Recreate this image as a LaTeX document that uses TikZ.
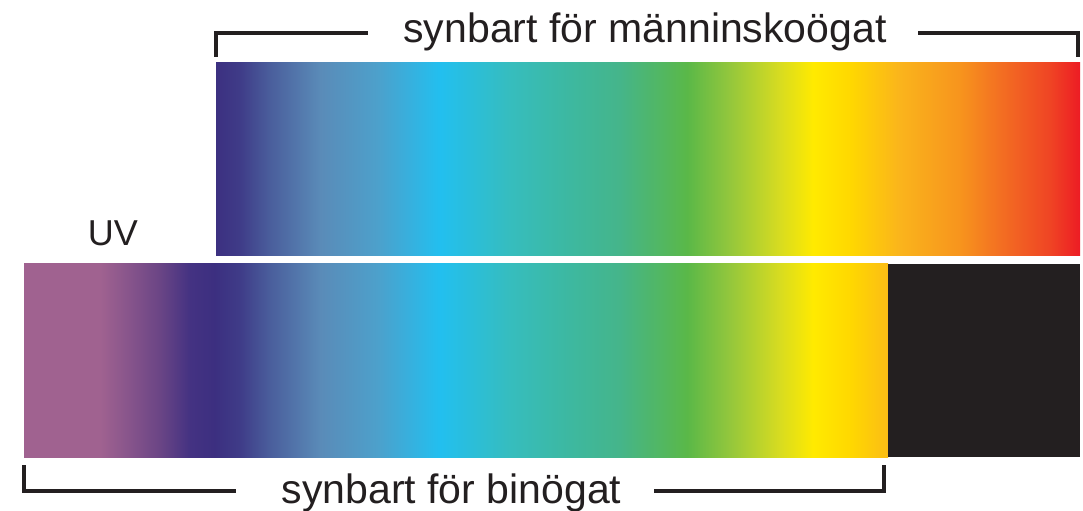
\documentclass[tikz,border=0pt]{standalone}
\usepackage{fontspec}
\setmainfont{Liberation Sans}
\definecolor{inkc}{HTML}{231F20}
\definecolor{s01}{HTML}{A06290}
\definecolor{s02}{HTML}{86548B}
\definecolor{s03}{HTML}{6A4585}
\definecolor{s04}{HTML}{443282}
\definecolor{s05}{HTML}{3C2F80}
\definecolor{s06}{HTML}{3F3C88}
\definecolor{s07}{HTML}{4A5E9C}
\definecolor{s08}{HTML}{5A8BB8}
\definecolor{s09}{HTML}{4DA0CB}
\definecolor{s10}{HTML}{22BFEF}
\definecolor{s11}{HTML}{36BDBE}
\definecolor{s12}{HTML}{3DB8A0}
\definecolor{s13}{HTML}{45B58A}
\definecolor{s14}{HTML}{5AB848}
\definecolor{s15}{HTML}{94C73C}
\definecolor{s16}{HTML}{D8DC20}
\definecolor{s17}{HTML}{FFEA00}
\definecolor{s18}{HTML}{FFD800}
\definecolor{s19}{HTML}{FAB41C}
\definecolor{s20}{HTML}{F7941D}
\definecolor{s21}{HTML}{F36F22}
\definecolor{s22}{HTML}{EF4424}
\definecolor{s23}{HTML}{ED1C24}
\pgfdeclarehorizontalshading{spectrum}{100bp}{%
color(0bp)=(s01); color(25bp)=(s01); color(28.6bp)=(s01);
color(30.02bp)=(s02); color(31.44bp)=(s03); color(32.86bp)=(s04);
color(34.04bp)=(s05); color(35.23bp)=(s06); color(36.65bp)=(s07);
color(39.02bp)=(s08); color(41.71bp)=(s09); color(44.70bp)=(s10);
color(48.01bp)=(s11); color(50.85bp)=(s12); color(53.22bp)=(s13);
color(56.39bp)=(s14); color(58.43bp)=(s15); color(60.80bp)=(s16);
color(62.36bp)=(s17); color(64.11bp)=(s18); color(66.48bp)=(s19);
color(69.32bp)=(s20); color(71.21bp)=(s21); color(73.58bp)=(s22);
color(75bp)=(s23); color(100bp)=(s23)}
\tikzset{
  bracket/.style={draw=inkc, line width=3.2bp, line join=miter},
  lbl/.style={inner sep=0pt, anchor=base, text=inkc, font=\fontsize{41bp}{49bp}\selectfont},
  uvlbl/.style={inner sep=0pt, anchor=base, text=inkc, font=\fontsize{36bp}{43bp}\selectfont}
}
\begin{document}
\begin{tikzpicture}[x=1bp, y=-1bp]
\useasboundingbox (0,0) rectangle (1083,511);
% top bar
\begin{scope}
  \clip (216,63) rectangle (1080,256);
  \shade[shading=spectrum] (24,63) rectangle (1080,256);
\end{scope}
% bottom bar
\begin{scope}
  \clip (24,264) rectangle (888,457);
  \shade[shading=spectrum] (24,264) rectangle (1080,457);
\end{scope}
\fill[inkc] (888,264) rectangle (1080,457);
% labels
\node[lbl] (human) at (645,43) {synbart för männinskoögat};
\node[lbl] (bee) at (451.5,503) {synbart för binögat};
\node[uvlbl] (uv) at (113,246) {UV};
% brackets
\coordinate (t1) at (216,57);
\coordinate (t2) at (216,33);
\coordinate (t3) at (368,33);
\coordinate (t4) at (918,33);
\coordinate (t5) at (1078,33);
\coordinate (t6) at (1078,57);
\draw[bracket] (t1) -- (t2) -- (t3);
\draw[bracket] (t4) -- (t5) -- (t6);
\coordinate (b1) at (24,465);
\coordinate (b2) at (24,491);
\coordinate (b3) at (236,491);
\coordinate (b4) at (654,491);
\coordinate (b5) at (884,491);
\coordinate (b6) at (884,465);
\draw[bracket] (b1) -- (b2) -- (b3);
\draw[bracket] (b4) -- (b5) -- (b6);
\end{tikzpicture}
\end{document}
